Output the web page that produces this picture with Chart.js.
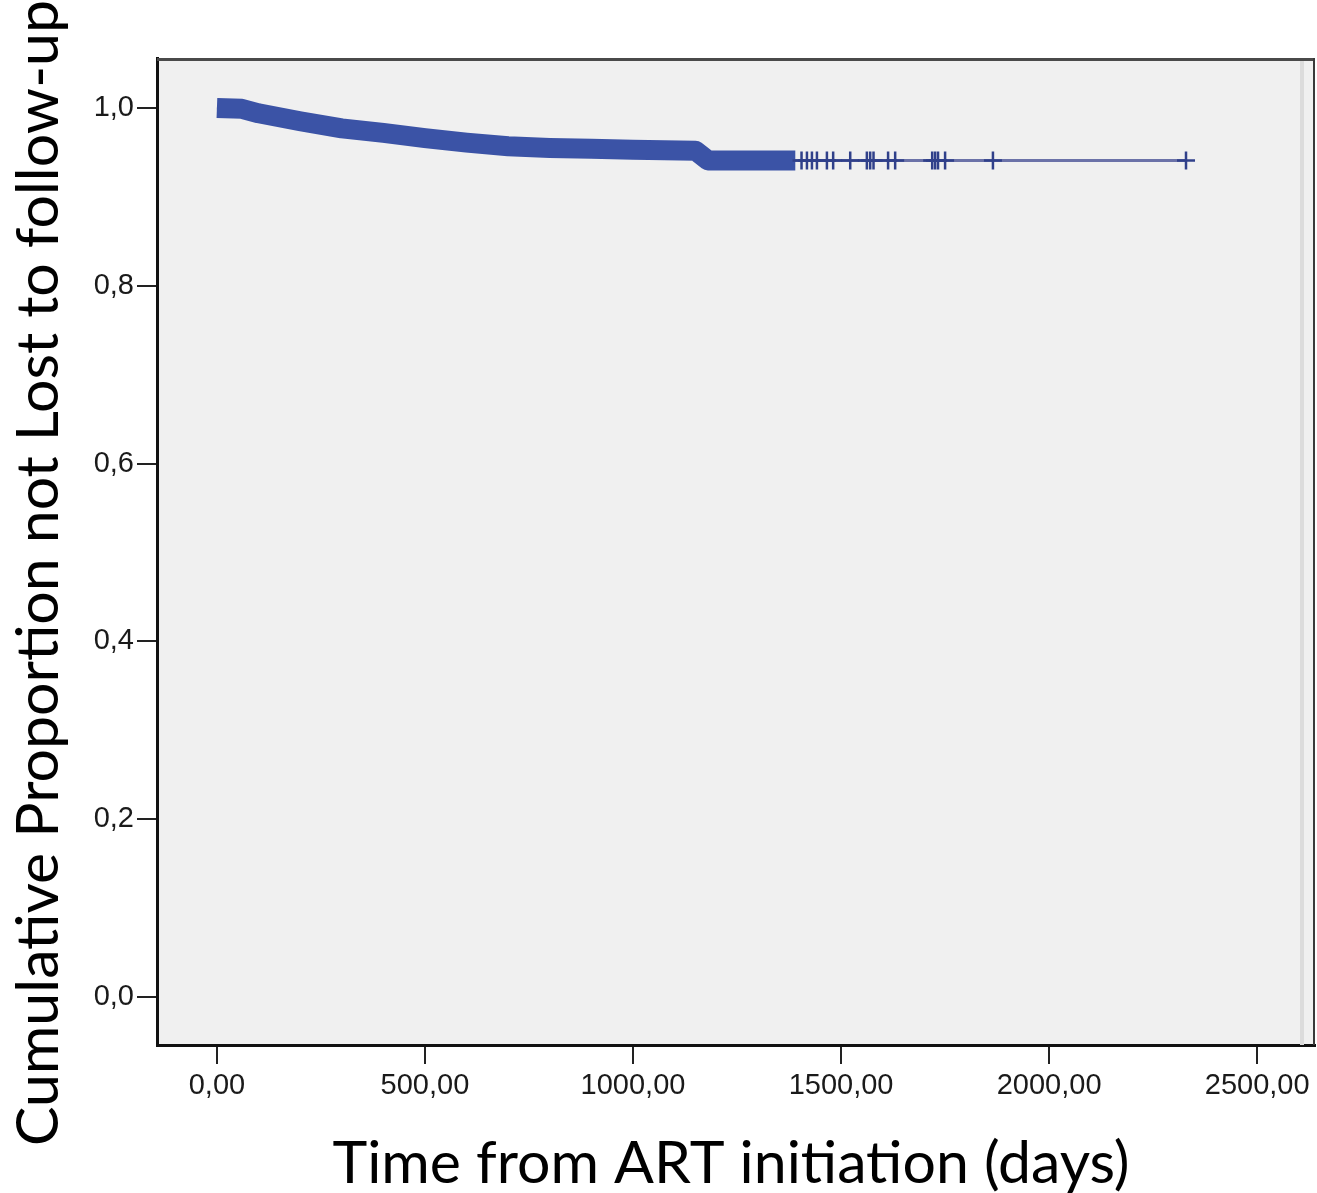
<!DOCTYPE html>
<html>
<head>
<meta charset="utf-8">
<title>Cumulative proportion not lost to follow-up</title>
<script src="https://cdn.jsdelivr.net/npm/chart.js@4.4.1/dist/chart.umd.min.js"></script>
<style>
  html, body { margin: 0; padding: 0; background: #ffffff; overflow: hidden; }
  #wrap { width: 1317px; height: 1193px; }
  canvas { display: block; }
</style>
</head>
<body>
<div id="wrap"><canvas id="km-chart" width="1317" height="1193"></canvas></div>
<script>
// Kaplan-Meier estimate (days, proportion)
const kmDays = [0, 60, 100, 200, 300, 400, 500, 600, 700, 800, 900, 1000, 1150, 1180, 2330];
const kmSurvival = [1.000, 0.999, 0.994, 0.985, 0.977, 0.972, 0.966, 0.961, 0.957, 0.955, 0.954, 0.953, 0.952, 0.941, 0.941];

// stretch where censor marks are so dense they merge into a band
const denseDays = [0, 60, 100, 200, 300, 400, 500, 600, 700, 800, 900, 1000, 1150, 1180, 1390];
const denseSurvival = [1.000, 0.999, 0.994, 0.985, 0.977, 0.972, 0.966, 0.961, 0.957, 0.955, 0.954, 0.953, 0.952, 0.941, 0.941];

// single censored cases after the dense stretch
const censorDays = [1405, 1418, 1430, 1442, 1466, 1481, 1522, 1562, 1570, 1578, 1613, 1630, 1719, 1726, 1733, 1750, 1865, 2329];
const censorSurvival = 0.941;

// axes
const xTickValues = [0, 500, 1000, 1500, 2000, 2500];
const xTickLabels = ["0,00", "500,00", "1000,00", "1500,00", "2000,00", "2500,00"];
const yTickValues = [0, 0.2, 0.4, 0.6, 0.8, 1.0];
const yTickLabels = ["0,0", "0,2", "0,4", "0,6", "0,8", "1,0"];

const xTitle = "Time from ART initiation (days)";
const yTitle = "Cumulative Proportion not Lost to follow-up";

const toPoints = (xs, ys) => xs.map((x, i) => ({ x: x, y: Array.isArray(ys) ? ys[i] : ys }));

// grey panel + frame + big axis titles, SPSS style
const panelPlugin = {
  id: "panel",
  beforeDraw(chart) {
    const { ctx, chartArea: a } = chart;
    ctx.save();
    ctx.fillStyle = "#f0f0f0";
    ctx.fillRect(a.left, a.top, a.right - a.left, a.bottom - a.top);
    ctx.restore();
  },
  afterDraw(chart) {
    const { ctx, chartArea: a } = chart;
    ctx.save();
    // top and right frame
    ctx.strokeStyle = "#4a4a4a";
    ctx.lineWidth = 3;
    ctx.beginPath();
    ctx.moveTo(a.left, a.top + 1.5);
    ctx.lineTo(a.right, a.top + 1.5);
    ctx.stroke();
    ctx.strokeStyle = "#3a3a3a";
    ctx.lineWidth = 2;
    ctx.beginPath();
    ctx.moveTo(a.right - 1, a.top);
    ctx.lineTo(a.right - 1, a.bottom);
    ctx.stroke();
    ctx.strokeStyle = "#dcdcdc";
    ctx.lineWidth = 4;
    ctx.beginPath();
    ctx.moveTo(a.right - 13, a.top + 3);
    ctx.lineTo(a.right - 13, a.bottom);
    ctx.stroke();

    // axis titles
    ctx.fillStyle = "#000";
    ctx.textBaseline = "alphabetic";
    ctx.textAlign = "center";
    const fit = (text, target) => {
      ctx.font = "100px Lato";
      const w = ctx.measureText(text).width;
      return Math.round(100 * target / w);
    };
    ctx.font = fit(xTitle, 797) + "px Lato";
    ctx.fillText(xTitle, 731, 1183);
    ctx.font = fit(yTitle, 1143) + "px Lato";
    ctx.translate(58, 573);
    ctx.rotate(-Math.PI / 2);
    ctx.fillText(yTitle, 0, 0);
    ctx.restore();
  }
};

const ctx = document.getElementById("km-chart").getContext("2d");

const myChart = new Chart(ctx, {
  type: "line",
  data: {
    datasets: [
      {
        label: "Dense censoring",
        data: toPoints(denseDays, denseSurvival),
        borderColor: "#3b53a6",
        borderWidth: 20,
        borderCapStyle: "butt",
        borderJoinStyle: "round",
        pointRadius: 0,
        order: 2
      },
      {
        label: "Survival function",
        data: toPoints(kmDays, kmSurvival),
        borderColor: "#6b72a8",
        borderWidth: 3,
        pointRadius: 0,
        order: 3
      },
      {
        label: "Censored",
        data: toPoints(censorDays, censorSurvival),
        showLine: false,
        pointStyle: "cross",
        pointRadius: 9,
        pointBorderWidth: 2.5,
        pointBorderColor: "#30408a",
        order: 1
      }
    ]
  },
  options: {
    responsive: false,
    animation: false,
    layout: { autoPadding: false, padding: { top: 58, right: 2, left: 0, bottom: 0 } },
    plugins: {
      legend: { display: false },
      tooltip: { enabled: false }
    },
    scales: {
      x: {
        type: "linear",
        min: -144,
        max: 2639,
        afterFit: s => { s.height = 148; s.paddingLeft = 0; s.paddingRight = 0; },
        afterBuildTicks: s => { s.ticks = xTickValues.map(v => ({ value: v })); },
        ticks: {
          padding: 5,
          color: "#1a1a1a",
          font: { family: "Liberation Sans", size: 29 },
          maxRotation: 0,
          autoSkip: false,
          callback: (v) => xTickLabels[xTickValues.indexOf(v)]
        },
        grid: { drawOnChartArea: false, drawTicks: true, tickLength: 19, color: "#222", lineWidth: 2 },
        border: { display: true, color: "#111", width: 3 }
      },
      y: {
        type: "linear",
        min: -0.054,
        max: 1.0562,
        afterFit: s => { s.width = 157; s.paddingTop = 0; s.paddingBottom = 0; },
        afterBuildTicks: s => { s.ticks = yTickValues.map(v => ({ value: v })); },
        ticks: {
          padding: 3,
          color: "#1a1a1a",
          font: { family: "Liberation Sans", size: 29 },
          autoSkip: false,
          callback: (v) => yTickLabels[yTickValues.indexOf(v)]
        },
        grid: { drawOnChartArea: false, drawTicks: true, tickLength: 20, color: "#222", lineWidth: 2 },
        border: { display: true, color: "#111", width: 3 }
      }
    }
  },
  plugins: [panelPlugin]
});
</script>
</body>
</html>
